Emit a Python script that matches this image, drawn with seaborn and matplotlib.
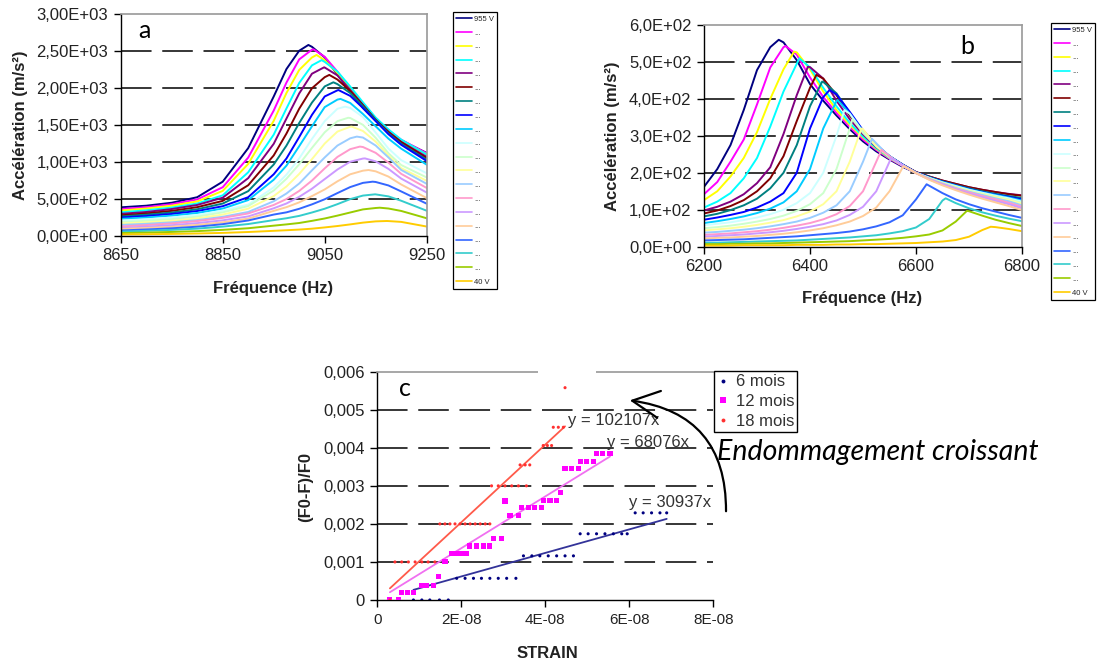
import numpy as np
import pandas as pd
import matplotlib
matplotlib.use("Agg")
import matplotlib.pyplot as plt
import seaborn as sns
from matplotlib.lines import Line2D
from matplotlib.patches import FancyArrowPatch, Rectangle
from matplotlib.ticker import FixedLocator, FuncFormatter

W, H = 1098, 666

# ------------------------------------------------------------------ data
SERIES_LABELS = ["955 V"] + ["..."] * 18 + ["40 V"]
SERIES_COLORS = ["#000080", "#FF00FF", "#FFFF00", "#00FFFF", "#800080",
                 "#800000", "#008080", "#0000FF", "#00CCFF", "#CCFFFF",
                 "#CCFFCC", "#FFFF99", "#99CCFF", "#FF99CC", "#CC99FF",
                 "#FFCC99", "#3366FF", "#33CCCC", "#99CC00", "#FFCC00"]

# panel a : frequency sweep around 9 kHz
FREQ_A = [8650, 8700, 8750, 8800, 8850, 8900, 8950, 8975, 9000, 9025,
          9050, 9075, 9100, 9125, 9150, 9175, 9200, 9250]
A01 = [388, 410, 450, 525, 735, 1189, 1887, 2259, 2507, 2560, 2417, 2184, 1952, 1732, 1559, 1411, 1293, 1124]
A02 = [365, 390, 430, 495, 660, 1061, 1697, 2076, 2390, 2521, 2425, 2223, 1996, 1768, 1586, 1432, 1303, 1119]
A03 = [345, 372, 410, 468, 610, 975, 1558, 1935, 2247, 2416, 2379, 2205, 1989, 1769, 1580, 1426, 1294, 1103]
A04 = [320, 348, 385, 440, 550, 862, 1371, 1726, 2071, 2309, 2356, 2225, 2023, 1809, 1602, 1442, 1304, 1102]
A05 = [300, 325, 365, 420, 518, 783, 1247, 1589, 1929, 2196, 2280, 2173, 1977, 1772, 1568, 1411, 1274, 1071]
A06 = [280, 305, 340, 390, 475, 687, 1090, 1386, 1722, 1999, 2149, 2117, 1962, 1770, 1574, 1406, 1269, 1055]
A07 = [265, 288, 318, 362, 439, 607, 967, 1223, 1529, 1805, 2024, 2055, 1934, 1756, 1568, 1389, 1248, 1034]
A08 = [250, 270, 298, 338, 403, 525, 835, 1049, 1339, 1639, 1888, 1971, 1896, 1732, 1554, 1377, 1234, 1015]
A09 = [232, 250, 276, 312, 371, 486, 761, 952, 1215, 1484, 1744, 1846, 1800, 1651, 1484, 1317, 1182, 965]
A10 = [210, 226, 250, 283, 343, 425, 658, 830, 1050, 1313, 1554, 1722, 1733, 1610, 1400, 1183, 1026, 849]
A11 = [190, 205, 228, 262, 320, 405, 615, 775, 970, 1192, 1403, 1554, 1597, 1504, 1328, 1120, 960, 792]
A12 = [170, 185, 205, 238, 290, 370, 540, 670, 840, 1040, 1251, 1413, 1478, 1421, 1276, 1088, 918, 747]
A13 = [150, 165, 185, 215, 260, 325, 470, 575, 710, 888, 1063, 1224, 1322, 1332, 1224, 1063, 894, 706]
A14 = [130, 148, 170, 202, 245, 305, 420, 500, 610, 750, 915, 1070, 1175, 1204, 1125, 992, 841, 650]
A15 = [110, 126, 146, 174, 212, 265, 375, 440, 530, 640, 770, 900, 1005, 1048, 1010, 908, 777, 588]
A16 = [95, 108, 125, 150, 185, 235, 340, 390, 455, 540, 630, 740, 835, 884, 875, 804, 697, 513]
A17 = [75, 88, 104, 126, 160, 210, 290, 320, 368, 428, 497, 581, 662, 719, 731, 684, 603, 437]
A18 = [60, 70, 83, 100, 127, 162, 215, 240, 272, 318, 369, 431, 499, 547, 563, 536, 477, 342]
A19 = [40, 46, 55, 66, 83, 105, 140, 157, 176, 205, 237, 276, 318, 360, 379, 372, 339, 240]
A20 = [21, 24, 28, 34, 42, 54, 70, 78, 87, 99, 116, 135, 157, 181, 198, 202, 191, 128]
PEAK_FREQ_A = [9018, 9028, 9034, 9044, 9049, 9059, 9067, 9077, 9081, 9090,
               9096, 9103, 9113, 9119, 9129, 9136, 9144, 9149, 9158, 9172]
PEAK_ACC_A = [2585, 2526, 2450, 2380, 2283, 2180, 2080, 1975, 1855, 1750,
              1600, 1480, 1345, 1210, 1050, 893, 735, 564, 383, 203]
YTICKS_A = [0, 500, 1000, 1500, 2000, 2500, 3000]
XTICKS_A = [8650, 8850, 9050, 9250]

# panel b : frequency sweep around 6.4 kHz
FREQ_B = [6200, 6225, 6250, 6275, 6300, 6325, 6350, 6375, 6400, 6425, 6450, 6475,
          6500, 6525, 6550, 6575, 6600, 6625, 6650, 6675, 6700, 6725, 6750, 6775, 6800]
B01 = [162, 210, 275, 370, 478, 540, 553, 505, 440, 395, 355, 318, 285, 258, 236, 216, 200, 186, 173, 162, 152, 144, 137, 131, 126]
B02 = [142, 175, 230, 290, 385, 485, 540, 520, 458, 405, 362, 324, 290, 262, 238, 218, 201, 188, 175, 165, 155, 147, 140, 135, 130]
B03 = [126, 150, 190, 240, 310, 400, 480, 526, 480, 420, 370, 330, 295, 265, 240, 219, 201, 188, 176, 166, 156, 148, 141, 135, 130]
B04 = [106, 122, 145, 185, 240, 325, 420, 495, 485, 430, 380, 335, 298, 267, 241, 220, 201, 188, 176, 166, 156, 148, 141, 135, 129]
B05 = [98, 108, 122, 142, 172, 215, 305, 410, 486, 455, 395, 345, 304, 270, 243, 221, 202, 190, 179, 170, 161, 154, 148, 143, 139]
B06 = [90, 98, 110, 126, 150, 185, 245, 340, 430, 455, 410, 355, 310, 273, 244, 222, 202, 190, 179, 170, 161, 154, 148, 142, 138]
B07 = [82, 89, 99, 112, 130, 158, 200, 275, 380, 446, 415, 362, 313, 275, 245, 222, 201, 189, 177, 167, 158, 150, 143, 137, 132]
B08 = [73, 79, 86, 94, 106, 122, 145, 200, 320, 405, 412, 365, 315, 276, 245, 222, 201, 188, 176, 166, 156, 148, 141, 135, 128]
B09 = [64, 69, 75, 82, 91, 103, 120, 150, 210, 320, 394, 360, 312, 275, 245, 221, 200, 187, 175, 165, 155, 147, 140, 133, 125]
B10 = [58, 62, 66, 72, 79, 88, 100, 118, 145, 200, 300, 360, 310, 273, 244, 220, 200, 186, 174, 164, 154, 146, 138, 131, 122]
B11 = [50, 53, 57, 62, 68, 75, 84, 97, 115, 145, 210, 320, 308, 272, 243, 220, 200, 186, 173, 162, 152, 144, 136, 128, 119]
B12 = [44, 47, 50, 54, 59, 65, 72, 82, 95, 115, 150, 230, 318, 272, 242, 219, 200, 185, 172, 161, 151, 142, 134, 126, 116]
B13 = [38, 40, 43, 46, 50, 55, 61, 68, 78, 92, 112, 150, 230, 280, 243, 219, 200, 184, 171, 159, 149, 140, 131, 123, 112]
B14 = [32, 34, 36, 39, 42, 46, 51, 57, 64, 74, 88, 110, 150, 230, 245, 219, 199, 183, 169, 157, 147, 137, 128, 119, 108]
B15 = [27, 29, 31, 33, 36, 39, 43, 48, 54, 61, 71, 86, 108, 150, 230, 221, 199, 182, 168, 155, 144, 134, 124, 115, 104]
B16 = [22, 24, 25, 27, 29, 32, 35, 39, 44, 50, 58, 68, 83, 106, 150, 215, 199, 181, 166, 153, 141, 130, 120, 110, 99]
B17 = [17, 18, 19, 20, 22, 24, 26, 28, 31, 34, 37, 41, 47, 55, 66, 85, 128, 165, 145, 128, 115, 104, 95, 86, 78]
B18 = [11, 11, 12, 13, 14, 15, 16, 17, 19, 21, 23, 25, 28, 31, 36, 42, 52, 75, 125, 118, 104, 93, 84, 76, 69]
B19 = [7, 7, 8, 8, 9, 9, 10, 11, 12, 13, 14, 15, 17, 19, 21, 24, 28, 33, 44, 68, 96, 84, 73, 64, 56]
B20 = [3, 3, 3, 4, 4, 4, 4, 5, 5, 5, 6, 6, 7, 7, 8, 9, 10, 12, 14, 18, 27, 45, 53, 48, 42]
PEAK_FREQ_B = [6341, 6354, 6370, 6380, 6396, 6412, 6423, 6437, 6452, 6465,
               6480, 6497, 6517, 6535, 6553, 6577, 6620, 6656, 6696, 6741]
PEAK_ACC_B = [560, 543, 528, 510, 487, 465, 447, 424, 397, 370,
              345, 320, 292, 262, 240, 218, 169, 131, 97, 54]
YTICKS_B = [0, 100, 200, 300, 400, 500, 600]
XTICKS_B = [6200, 6400, 6600, 6800]

# panel c : damage indicator vs strain (strain in units of 1E-08)
GROUPS = ["6 mois", "12 mois", "18 mois"]
SLOPES = [30937, 68076, 102107]
STRAIN_6M = [0.86, 1.06, 1.25, 1.48, 1.69, 1.89, 2.09, 2.29, 2.48, 2.68, 2.88, 3.08, 3.30,
             3.48, 3.68, 3.87, 4.07, 4.27, 4.47, 4.67, 4.83, 5.02, 5.22, 5.42, 5.62, 5.82,
             5.95, 6.14, 6.33, 6.53, 6.73, 6.89]
DF_6M = [0, 0, 0, 0, 0, 0.00057, 0.00057, 0.00057, 0.00057, 0.00057, 0.00057, 0.00057, 0.00057,
         0.00116, 0.00116, 0.00116, 0.00116, 0.00116, 0.00116, 0.00116, 0.00174, 0.00174, 0.00174,
         0.00174, 0.00174, 0.00174, 0.00174, 0.00229, 0.00229, 0.00229, 0.00229, 0.00229]
STRAIN_12M = [0.30, 0.50, 0.58, 0.71, 0.86, 1.06, 1.18, 1.33, 1.45, 1.61, 1.77, 1.89, 2.00, 2.13,
              2.20, 2.37, 2.52, 2.68, 2.76, 2.96, 3.04, 3.16, 3.36, 3.44, 3.60, 3.75, 3.91, 3.95,
              4.11, 4.27, 4.37, 4.47, 4.63, 4.79, 4.83, 4.99, 5.14, 5.21, 5.37, 5.54]
DF_12M = [0, 0, 0.00019, 0.00019, 0.00019, 0.00039, 0.00039, 0.00039, 0.00061, 0.00101, 0.00123,
          0.00123, 0.00123, 0.00123, 0.00142, 0.00142, 0.00142, 0.00142, 0.00162, 0.00162, 0.0026,
          0.00223, 0.00223, 0.00243, 0.00243, 0.00243, 0.00243, 0.00261, 0.00261, 0.00261, 0.00282,
          0.00346, 0.00346, 0.00346, 0.00363, 0.00363, 0.00363, 0.00384, 0.00384, 0.00384]
STRAIN_18M = [0.30, 0.42, 0.58, 0.74, 0.90, 1.06, 1.21, 1.37, 1.49, 1.61, 1.73, 1.85, 1.97, 2.09,
              2.21, 2.33, 2.45, 2.57, 2.68, 2.72, 2.88, 3.04, 3.20, 3.36, 3.55, 3.40, 3.52, 3.63,
              3.95, 4.05, 4.15, 4.19, 4.31, 4.43, 4.47]
DF_18M = [0, 0.001, 0.001, 0.001, 0.001, 0.001, 0.001, 0.001, 0.002, 0.002, 0.002, 0.002, 0.002,
          0.002, 0.002, 0.002, 0.002, 0.002, 0.002, 0.003, 0.003, 0.003, 0.003, 0.003, 0.003,
          0.00355, 0.00355, 0.00355, 0.00406, 0.00406, 0.00406, 0.00454, 0.00454, 0.00454, 0.00558]
YTICKS_C = [0, 0.001, 0.002, 0.003, 0.004, 0.005, 0.006]
XTICKS_C = [0, 2e-8, 4e-8, 6e-8, 8e-8]

ACC_A = [A01, A02, A03, A04, A05, A06, A07, A08, A09, A10,
         A11, A12, A13, A14, A15, A16, A17, A18, A19, A20]
ACC_B = [B01, B02, B03, B04, B05, B06, B07, B08, B09, B10,
         B11, B12, B13, B14, B15, B16, B17, B18, B19, B20]

# ------------------------------------------------------------------ style
sns.set_theme(style="ticks")
plt.rcParams["font.family"] = ["Liberation Sans", "DejaVu Sans"]

TXT = "#222222"
GRID_LS = (0, (20, 7))
SIDS = [f"s{i + 1:02d}" for i in range(20)]
PAL = dict(zip(SIDS, SERIES_COLORS))

fig = plt.figure(figsize=(W / 100, H / 100), dpi=100)
fig.patch.set_facecolor("white")


def rect(x0, y0, x1, y1):
    return [x0 / W, 1 - y1 / H, (x1 - x0) / W, (y1 - y0) / H]


def long_frame(freqs, curves, pf, pa):
    rows = []
    for sid, vals, f0, a0 in zip(SIDS, curves, pf, pa):
        for f, v in zip(freqs, vals):
            rows.append((sid, f, v))
        rows.append((sid, f0, a0))
    return pd.DataFrame(rows, columns=["serie", "freq", "acc"])


def style_axes(ax, xticks, yticks, xfmt, yfmt, right=True, xsize=12, ysize=12):
    ax.set_xlim(xticks[0], xticks[-1])
    ax.set_ylim(yticks[0], yticks[-1])
    ax.xaxis.set_major_locator(FixedLocator(xticks))
    ax.yaxis.set_major_locator(FixedLocator(yticks))
    ax.xaxis.set_major_formatter(FuncFormatter(xfmt))
    ax.yaxis.set_major_formatter(FuncFormatter(yfmt))
    ax.set_xlabel("")
    ax.set_ylabel("")
    for s in ["left", "bottom"]:
        ax.spines[s].set_color("black")
        ax.spines[s].set_linewidth(1.0)
    ax.spines["top"].set_visible(True)
    ax.spines["top"].set_color("#9c9c9c")
    ax.spines["right"].set_visible(right)
    ax.spines["right"].set_color("#9c9c9c")
    ax.tick_params(axis="both", direction="out", length=5, width=1.0,
                   color="black", labelcolor=TXT, pad=4)
    ax.tick_params(axis="x", labelsize=xsize)
    ax.tick_params(axis="y", labelsize=ysize)
    for v in yticks[1:-1]:
        ax.axhline(v, color="black", lw=1.1, ls=GRID_LS, zorder=0.5)
    ax.set_facecolor("white")


def series_legend(anchor_px):
    handles = [Line2D([0], [0], color=c, lw=1.2) for c in SERIES_COLORS]
    leg = fig.legend(handles, SERIES_LABELS, loc="upper left",
                     bbox_to_anchor=(anchor_px[0] / W, 1 - anchor_px[1] / H),
                     fontsize=5.5, frameon=True, fancybox=False, edgecolor="black",
                     framealpha=1, borderpad=0.45, handlelength=2.0, handletextpad=0.3,
                     labelspacing=0.85, borderaxespad=0)
    leg.get_frame().set_linewidth(0.9)
    for t in leg.get_texts():
        t.set_color(TXT)
    return leg


# ------------------------------------------------------------------ panel a
axA = fig.add_axes(rect(120.7, 14.3, 426.7, 236))
dfa = long_frame(FREQ_A, ACC_A, PEAK_FREQ_A, PEAK_ACC_A)
sns.lineplot(data=dfa, x="freq", y="acc", hue="serie", hue_order=SIDS, palette=PAL,
             estimator=None, sort=True, lw=1.4, legend=False, ax=axA)
style_axes(axA, XTICKS_A, YTICKS_A, lambda v, p: f"{v:.0f}",
           lambda v, p: f"{v:.2E}".replace(".", ","))
series_legend((453, 12))

# ------------------------------------------------------------------ panel b
axB = fig.add_axes(rect(704, 25, 1022, 246.7))
dfb = long_frame(FREQ_B, ACC_B, PEAK_FREQ_B, PEAK_ACC_B)
sns.lineplot(data=dfb, x="freq", y="acc", hue="serie", hue_order=SIDS, palette=PAL,
             estimator=None, sort=True, lw=1.4, legend=False, ax=axB)
style_axes(axB, XTICKS_B, YTICKS_B, lambda v, p: f"{v:.0f}",
           lambda v, p: f"{v:.1E}".replace(".", ","))
series_legend((1051, 23))

# ------------------------------------------------------------------ panel c
axC = fig.add_axes(rect(377.3, 371.7, 713.3, 600))
STRAINS = [STRAIN_6M, STRAIN_12M, STRAIN_18M]
DFS = [DF_6M, DF_12M, DF_18M]
PT_COLORS = ["#000080", "#FF00FF", "#FF3030"]
LINE_COLORS = ["#333399", "#F070F0", "#FF5A4A"]
MARKERS = ["o", "s", "o"]
SIZES = [5, 14, 5]
for g, xs, ys, pc, lc, mk, sz, k in zip(GROUPS, STRAINS, DFS, PT_COLORS, LINE_COLORS,
                                        MARKERS, SIZES, SLOPES):
    d = pd.DataFrame({"strain": np.array(xs) * 1e-8, "df": ys})
    sns.scatterplot(data=d, x="strain", y="df", color=pc, marker=mk, s=sz,
                    edgecolor="none", linewidth=0, ax=axC, zorder=3, legend=False)
    xe = np.array([d["strain"].min(), d["strain"].max()])
    sns.lineplot(x=xe, y=k * xe, color=lc, lw=1.3, ax=axC, zorder=2, legend=False)


def fmt_c_y(v, p):
    return "0" if v == 0 else f"{v:.3f}".replace(".", ",")


def fmt_c_x(v, p):
    return "0" if v == 0 else f"{v:.0E}"


style_axes(axC, XTICKS_C, YTICKS_C, fmt_c_x, fmt_c_y, right=False, xsize=11, ysize=12)

# equation labels
for k, (px, py) in zip(SLOPES, [(629, 502), (607, 443), (568, 421)]):
    fig.text(px / W, 1 - py / H, f"y = {k}x", fontsize=12, color="#333333",
             ha="left", va="center")

# legend c
hc = [Line2D([0], [0], marker=m, color=c, ls="", ms=ms, markeredgewidth=0)
      for m, c, ms in zip(MARKERS, PT_COLORS, [2.8, 3.8, 2.8])]
legc = fig.legend(hc, GROUPS, loc="upper left", bbox_to_anchor=(714 / W, 1 - 371 / H),
                  fontsize=12, frameon=True, fancybox=False, edgecolor="black", framealpha=1,
                  borderpad=0.2, handlelength=0.7, handletextpad=0.4, labelspacing=0.28,
                  borderaxespad=0)
legc.get_frame().set_linewidth(1.0)
for t in legc.get_texts():
    t.set_color("#333333")

# gap in the top frame of panel c
fig.add_artist(Rectangle((538 / W, 1 - 377 / H), 58 / W, 10 / H, transform=fig.transFigure,
                         facecolor="white", edgecolor="none", zorder=10))

# ------------------------------------------------------------------ texts
BOLD = dict(fontweight="bold", fontsize=12, color=TXT, ha="center", va="center")
fig.text(20 / W, 1 - 125 / H, "Accélération (m/s²)", rotation=90, **BOLD)
fig.text(273 / W, 1 - 288 / H, "Fréquence (Hz)", **BOLD)
fig.text(612 / W, 1 - 136 / H, "Accélération (m/s²)", rotation=90, **BOLD)
fig.text(862 / W, 1 - 298 / H, "Fréquence (Hz)", **BOLD)
fig.text(306 / W, 1 - 487 / H, "(F0-F)/F0", rotation=90, **BOLD)
fig.text(547 / W, 1 - 653 / H, "STRAIN", **BOLD)

LET = dict(fontsize=18, color="black", ha="center", va="center", family=["Lato", "DejaVu Sans"])
fig.text(144 / W, 1 - 31 / H, "a", **LET)
fig.text(967 / W, 1 - 47 / H, "b", **LET)
fig.text(405 / W, 1 - 388 / H, "c", **LET)

fig.text(717 / W, 1 - 460 / H, "Endommagement croissant", fontsize=20.5, style="italic",
         color="black", ha="left", va="baseline", family=["Lato", "DejaVu Sans"])

arrow = FancyArrowPatch(posA=(726 / W, 1 - 514 / H), posB=(627 / W, 1 - 400 / H),
                        transform=fig.transFigure, connectionstyle="arc3,rad=0.45",
                        arrowstyle="->,head_length=1.3,head_width=0.65", mutation_scale=15,
                        lw=1.6, color="black", zorder=11)
fig.add_artist(arrow)

fig.savefig("out.png", dpi=100, facecolor="white")
